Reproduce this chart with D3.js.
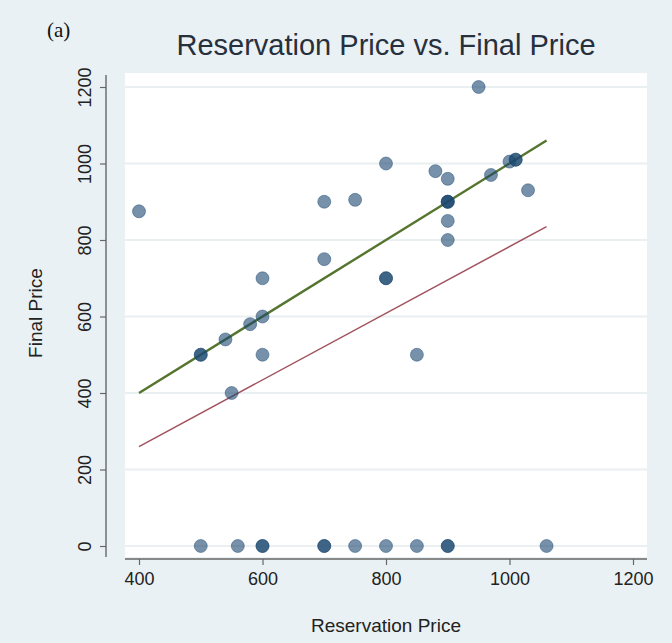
<!DOCTYPE html>
<html>
<head>
<meta charset="utf-8">
<script src="https://cdn.jsdelivr.net/npm/d3@7"></script>
<style>
  html, body { margin: 0; padding: 0; background: #eaf1f4; }
  svg { display: block; }
  text { font-family: "Liberation Sans", Arial, Helvetica, sans-serif; }
</style>
</head>
<body>
<svg id="chart" width="672" height="643"></svg>
<script>
// Reservation price vs. final price, one mark per auction
const reservation = [
  400, 950, 700, 750, 800, 700, 600, 800, 800,
  880, 900, 900, 900, 900, 970, 1000, 1010, 1010, 1030,
  900, 900, 500, 500, 540, 580, 600, 600, 550, 850,
  500, 560, 600, 600, 700, 700, 750, 800, 850, 900, 900, 1060
];
const finalPrice = [
  875, 1200, 900, 905, 1000, 750, 700, 700, 700,
  980, 960, 900, 900, 900, 970, 1005, 1010, 1010, 930,
  850, 800, 500, 500, 540, 580, 600, 500, 400, 500,
  0, 0, 0, 0, 0, 0, 0, 0, 0, 0, 0, 0
];

// Reference lines: 45-degree line and fitted line
const lineX = [400, 1060];
const equalLineY = [400, 1060];
const fitLineY = [260, 835];

const xTicks = [400, 600, 800, 1000, 1200];
const yTicks = [0, 200, 400, 600, 800, 1000, 1200];

const titleText = "Reservation Price vs. Final Price";
const xTitle = "Reservation Price";
const yTitle = "Final Price";
const panelLabel = "(a)";

const svg = d3.select("#chart");

const panel = { left: 125, right: 647, top: 73, bottom: 557 };
const x = d3.scaleLinear().domain([400, 1200]).range([139, 633]);
const y = d3.scaleLinear().domain([0, 1200]).range([546, 87]);

// outer region
svg.append("rect").attr("width", 672).attr("height", 643).attr("fill", "#eaf1f4");

// plot region
svg.append("rect")
  .attr("x", panel.left).attr("y", panel.top)
  .attr("width", panel.right - panel.left).attr("height", panel.bottom - panel.top)
  .attr("fill", "#ffffff");

// horizontal grid
svg.append("g").selectAll("line").data(yTicks).join("line")
  .attr("x1", panel.left).attr("x2", panel.right)
  .attr("y1", d => y(d)).attr("y2", d => y(d))
  .attr("stroke", "#eaeff1").attr("stroke-width", 2);

// y axis
const yAxisX = 106;
const gy = svg.append("g").attr("transform", `translate(${yAxisX},0)`)
  .call(d3.axisLeft(y).tickValues(yTicks).tickSize(6).tickSizeOuter(0).tickFormat(d3.format("d")));
gy.select(".domain").remove();
gy.selectAll(".tick line").attr("stroke", "#666").attr("stroke-width", 1.2);
gy.selectAll(".tick text")
  .attr("x", null).attr("dy", null)
  .attr("transform", "translate(-15,0) rotate(-90)")
  .attr("text-anchor", "middle")
  .attr("font-size", 18).attr("fill", "#222");
gy.append("line").attr("x1", 0).attr("x2", 0).attr("y1", 75).attr("y2", 557)
  .attr("stroke", "#666").attr("stroke-width", 1.4);

// x axis
const xAxisY = 559;
const gx = svg.append("g").attr("transform", `translate(0,${xAxisY})`)
  .call(d3.axisBottom(x).tickValues(xTicks).tickSize(6).tickSizeOuter(0).tickPadding(7).tickFormat(d3.format("d")));
gx.select(".domain").remove();
gx.selectAll(".tick line").attr("stroke", "#666").attr("stroke-width", 1.2);
gx.selectAll(".tick text").attr("font-size", 18).attr("fill", "#222");
gx.append("line").attr("x1", panel.left).attr("x2", panel.right).attr("y1", 0).attr("y2", 0)
  .attr("stroke", "#666").attr("stroke-width", 1.4);

// reference lines
const line = d3.line().x(d => x(d[0])).y(d => y(d[1]));
svg.append("path")
  .datum(lineX.map((v, i) => [v, fitLineY[i]]))
  .attr("d", line).attr("fill", "none")
  .attr("stroke", "#a1525f").attr("stroke-width", 1.5);
svg.append("path")
  .datum(lineX.map((v, i) => [v, equalLineY[i]]))
  .attr("d", line).attr("fill", "none")
  .attr("stroke", "#55752f").attr("stroke-width", 2.4);

// points
svg.append("g").selectAll("circle").data(reservation.map((r, i) => [r, finalPrice[i]])).join("circle")
  .attr("cx", d => x(d[0])).attr("cy", d => y(d[1])).attr("r", 6.5)
  .attr("fill", "#1a476f").attr("fill-opacity", 0.6)
  .attr("stroke", "#1a476f").attr("stroke-opacity", 0.45).attr("stroke-width", 1);

// titles
svg.append("text").attr("x", 386).attr("y", 55).attr("text-anchor", "middle")
  .attr("font-size", 29).attr("fill", "#27303d").text(titleText);
svg.append("text").attr("x", 386).attr("y", 632).attr("text-anchor", "middle")
  .attr("font-size", 19).attr("fill", "#222").text(xTitle);
svg.append("text").attr("transform", "translate(42,313) rotate(-90)").attr("text-anchor", "middle")
  .attr("font-size", 19).attr("fill", "#222").text(yTitle);
svg.append("text").attr("x", 47).attr("y", 37)
  .style("font-family", "'Liberation Serif', 'DejaVu Serif', serif")
  .attr("font-size", 21).attr("fill", "#111").text(panelLabel);
</script>
</body>
</html>
